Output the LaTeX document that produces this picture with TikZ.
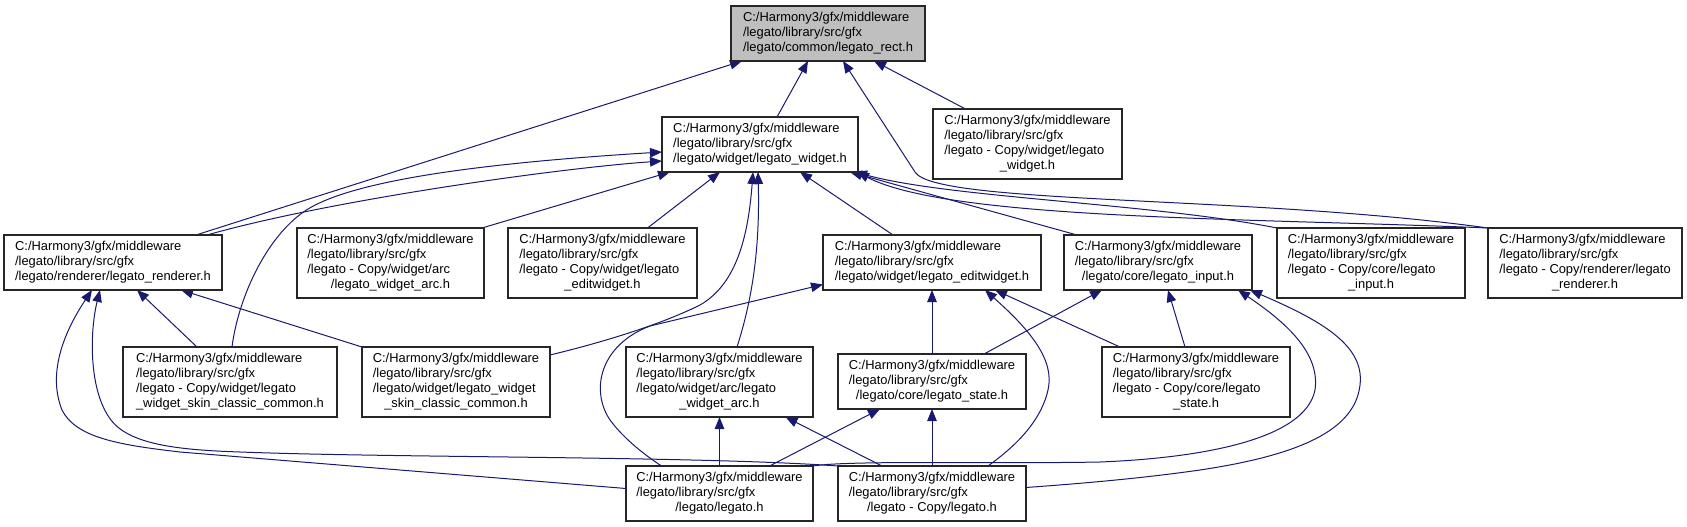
\documentclass[tikz,border=0pt]{standalone}
\usepackage{fontspec}
\setmainfont{Liberation Sans}
\usetikzlibrary{arrows.meta}
\definecolor{edgeblue}{HTML}{191970}
\definecolor{rectgray}{HTML}{BFBFBF}
\newcommand{\hdrA}[1]{\begin{tabular}{@{}l@{}}C:/Harmony3/gfx/middleware\\/legato/library/src/gfx\\\multicolumn{1}{@{}c@{}}{#1}\end{tabular}}
\newcommand{\hdrB}[2]{\begin{tabular}{@{}l@{}}C:/Harmony3/gfx/middleware\\/legato/library/src/gfx\\#1\\\multicolumn{1}{@{}c@{}}{#2}\end{tabular}}
\pgfdeclarelayer{back}
\pgfdeclarelayer{bg}
\pgfsetlayers{back,bg,main}
\begin{document}
\begin{tikzpicture}[x=1pt,y=-1pt,
  filebox/.style={draw=black!85, line width=1.3pt, fill=white, inner sep=0pt, outer sep=0pt,
    font=\fontsize{12.9}{14.8}\selectfont},
  three/.style={minimum height=55pt},
  four/.style={minimum height=70pt},
  dep/.style={draw=edgeblue, line width=1pt, {Triangle[length=12pt,width=9.5pt]}-}]
\useasboundingbox (0,0) rectangle (1687,527);
\begin{pgfonlayer}{back}
\fill[white] (0,0) rectangle (1687,527);
\end{pgfonlayer}

\node[filebox, three, fill=rectgray, minimum width=194pt] (rect) at (828,33.5) {\hdrA{/legato/common/legato\_rect.h}};
\node[filebox, three, minimum width=196pt] (widget) at (760,144.5) {\hdrA{/legato/widget/legato\_widget.h}};
\node[filebox, four, minimum width=189pt] (cwidget) at (1027.5,144) {\hdrB{/legato - Copy/widget/legato}{\_widget.h}};
\node[filebox, three, minimum width=218pt] (renderer) at (113,262.5) {\hdrA{/legato/renderer/legato\_renderer.h}};
\node[filebox, four, minimum width=187pt] (carc) at (390.5,263) {\hdrB{/legato - Copy/widget/arc}{/legato\_widget\_arc.h}};
\node[filebox, four, minimum width=189pt] (cedit) at (602.5,263) {\hdrB{/legato - Copy/widget/legato}{\_editwidget.h}};
\node[filebox, three, minimum width=218pt] (edit) at (932,262.5) {\hdrA{/legato/widget/legato\_editwidget.h}};
\node[filebox, three, minimum width=188pt] (input) at (1158,262.5) {\hdrA{/legato/core/legato\_input.h}};
\node[filebox, four, minimum width=188pt] (cinput) at (1371,263) {\hdrB{/legato - Copy/core/legato}{\_input.h}};
\node[filebox, four, minimum width=194pt] (crend) at (1585,263) {\hdrB{/legato - Copy/renderer/legato}{\_renderer.h}};
\node[filebox, four, minimum width=214pt] (cskin) at (230,382) {\hdrB{/legato - Copy/widget/legato}{\_widget\_skin\_classic\_common.h}};
\node[filebox, four, minimum width=188pt] (skin) at (456,382) {\hdrB{/legato/widget/legato\_widget}{\_skin\_classic\_common.h}};
\node[filebox, four, minimum width=187pt] (arc) at (719.5,382) {\hdrB{/legato/widget/arc/legato}{\_widget\_arc.h}};
\node[filebox, three, minimum width=188pt] (state) at (932,381.5) {\hdrA{/legato/core/legato\_state.h}};
\node[filebox, four, minimum width=188pt] (cstate) at (1196,382) {\hdrB{/legato - Copy/core/legato}{\_state.h}};
\node[filebox, three, minimum width=187pt] (legato) at (719.5,493.5) {\hdrA{/legato/legato.h}};
\node[filebox, three, minimum width=188pt] (clegato) at (932,493.5) {\hdrA{/legato - Copy/legato.h}};

\begin{pgfonlayer}{bg}
% to legato_rect.h
\draw[dep] ([xshift=-86pt]rect.south) -- ([xshift=83pt]renderer.north);
\draw[dep] ([xshift=-20pt]rect.south) -- ([xshift=17pt]widget.north);
\draw[dep] ([xshift=46pt]rect.south) -- ([xshift=-62pt]cwidget.north);
\draw[dep] ([xshift=15pt]rect.south) -- (915,172) .. controls (935,205) and (1250,195) .. (crend.north west);
% to legato_widget.h
\draw[dep] ([yshift=-16.5pt]widget.west) .. controls (560,168) and (330,200) .. ([xshift=94pt]renderer.north);
\draw[dep] ([yshift=-7.5pt]widget.west) .. controls (450,165) and (340,185) .. (302,213) .. controls (264,241) and (238,300) .. ([xshift=2pt]cskin.north);
\draw[dep] ([xshift=-90pt]widget.south) -- ([xshift=-2pt]carc.north east);
\draw[dep] ([xshift=-40pt]widget.south) -- ([xshift=45pt]cedit.north);
\draw[dep] ([xshift=-7pt]widget.south) .. controls (748,240) and (735,285) .. (700,305) .. controls (660,325) and (600,343) .. ([yshift=27pt]skin.east);
\draw[dep] ([xshift=-2pt]widget.south) .. controls (760,250) and (752,300) .. ([xshift=17.5pt]arc.north);
\draw[dep] ([xshift=40pt]widget.south) -- ([xshift=-39pt]edit.north);
\draw[dep] ([xshift=90pt]widget.south) -- ([xshift=-81pt]input.north);
\draw[dep] ([xshift=95pt]widget.south) .. controls (950,198) and (1150,203) .. (cinput.north west);
\draw[dep] ([xshift=-1pt]widget.south east) .. controls (950,220) and (1250,218) .. (crend.north west);
% to legato_renderer.h
\draw[dep] ([xshift=24pt]renderer.south) -- ([xshift=-33pt]cskin.north);
\draw[dep] ([xshift=68pt]renderer.south) -- (skin.north west);
\draw[dep] ([xshift=-21pt]renderer.south) .. controls (62,335) and (48,375) .. (62,410) .. controls (76,438) and (120,445) .. (180,452) -- ([yshift=5pt]legato.west);
\draw[dep] ([xshift=-13pt]renderer.south) .. controls (90,330) and (88,390) .. (111,420) .. controls (130,445) and (180,450) .. (240,452) .. controls (400,458) and (700,456) .. (clegato.north west);
% to legato_editwidget.h
\draw[dep] ([yshift=-22pt]edit.west) -- (650,326) .. controls (600,345) and (590,390) .. (610,420) .. controls (625,440) and (645,455) .. ([xshift=-58pt]legato.north);
\draw[dep] (edit.south) -- (state.north);
\draw[dep] ([xshift=53pt]edit.south) .. controls (1030,330) and (1055,360) .. (1048,390) .. controls (1040,425) and (1010,450) .. ([xshift=56pt]clegato.north);
\draw[dep] ([xshift=63pt]edit.south) -- ([xshift=-76pt]cstate.north);
% to legato_input.h
\draw[dep] ([xshift=-56pt]input.south) -- ([xshift=52pt]state.north);
\draw[dep] ([xshift=10pt]input.south) -- ([xshift=-11pt]cstate.north);
\draw[dep] ([xshift=80pt]input.south) .. controls (1290,325) and (1320,355) .. (1315,390) .. controls (1305,440) and (1200,458) .. (1100,462) .. controls (1000,464) and (850,460) .. (legato.north east);
\draw[dep] ([xshift=92pt]input.south) .. controls (1320,320) and (1365,345) .. (1360,385) .. controls (1355,430) and (1300,455) .. (1200,470) .. controls (1130,480) and (1060,485) .. ([yshift=6pt]clegato.east);
% to legato_widget_arc.h
\draw[dep] (arc.south) -- (legato.north);
\draw[dep] ([xshift=66pt]arc.south) -- ([xshift=-50pt]clegato.north);
% to legato_state.h
\draw[dep] ([xshift=-52pt]state.south) -- ([xshift=50pt]legato.north);
\draw[dep] (state.south) -- (clegato.north);
\end{pgfonlayer}
\end{tikzpicture}
\end{document}
